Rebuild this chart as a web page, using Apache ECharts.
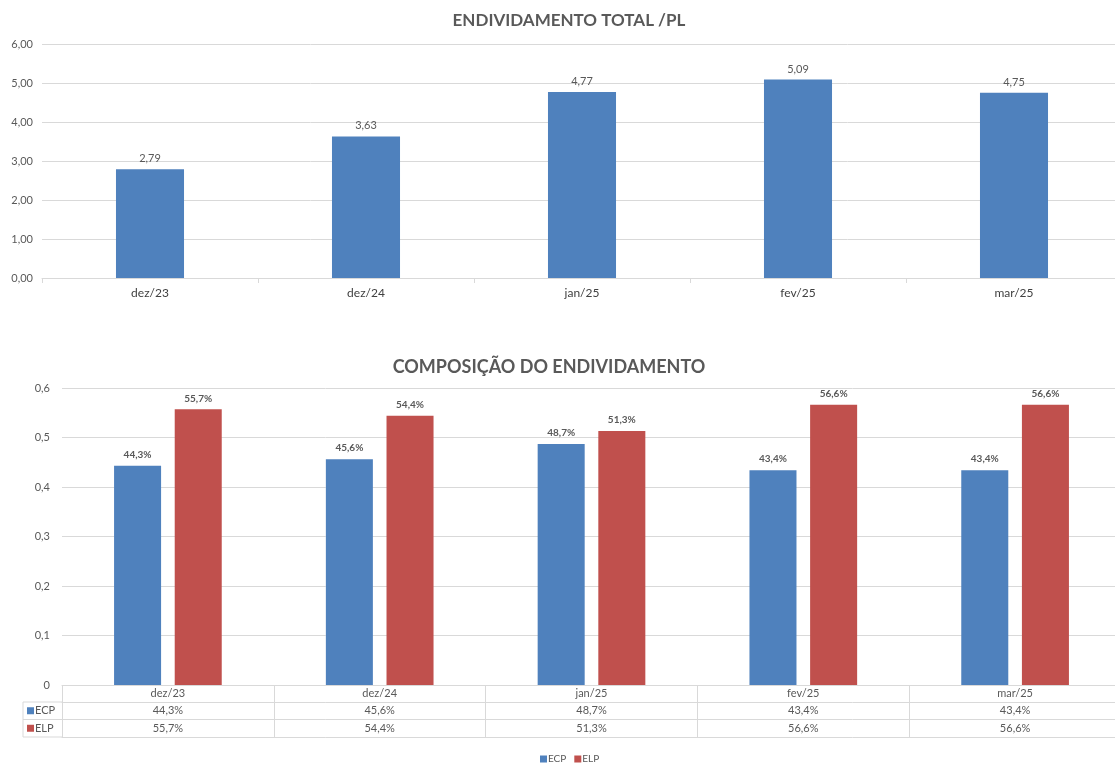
<!DOCTYPE html>
<html><head><meta charset="utf-8">
<script src="https://cdn.jsdelivr.net/npm/echarts@6/dist/echarts.min.js"></script>
<style>html,body{margin:0;padding:0;background:#fff}#c{width:1115px;height:763px}</style>
</head><body><div id="c"></div>
<script>
const categories = ['dez/23','dez/24','jan/25','fev/25','mar/25'];
const endividamentoTotalPL = [2.79, 3.63, 4.77, 5.09, 4.75];
const ecp = [0.443, 0.456, 0.487, 0.434, 0.434];
const elp = [0.557, 0.544, 0.513, 0.566, 0.566];
const seriesNames = ['ECP', 'ELP'];
const title1 = 'ENDIVIDAMENTO TOTAL /PL';
const title2 = 'COMPOSIÇÃO DO ENDIVIDAMENTO';

const FONT = 'Lato, "DejaVu Sans", sans-serif';
const BLUE = '#4F81BD', RED = '#C0504D', GRID = '#d9d9d9', TXT = '#595959';
const fmt2 = v => v.toFixed(2).replace('.', ',');
const fmt1 = v => (v === 0 ? '0' : v.toFixed(1).replace('.', ','));
const pct = v => (v * 100).toFixed(1).replace('.', ',') + '%';

const chart = echarts.init(document.getElementById('c'), null, {renderer: 'canvas'});

const rowTop = 702, rowH = 17.5, colL = 23, colR = 62;
const graphic = [];
[rowTop, rowTop + rowH, rowTop + 2 * rowH].forEach(y => graphic.push({type: 'line', shape: {x1: colL, y1: y, x2: colR, y2: y}, style: {stroke: GRID, lineWidth: 1}}));
graphic.push({type: 'line', shape: {x1: colL, y1: rowTop, x2: colL, y2: rowTop + 2 * rowH}, style: {stroke: GRID, lineWidth: 1}});
[[seriesNames[0], BLUE], [seriesNames[1], RED]].forEach((d, i) => {
  const cy = rowTop + rowH * i + rowH / 2;
  graphic.push({type: 'rect', shape: {x: colL + 4, y: cy - 3.5, width: 7, height: 7}, style: {fill: d[1]}});
  graphic.push({type: 'text', style: {x: colL + 12, y: cy, text: d[0], fill: TXT, font: '11px ' + FONT, textVerticalAlign: 'middle'}});
});

chart.setOption({
  animation: false,
  textStyle: {fontFamily: FONT},
  title: [
    {text: title1, left: 564, textAlign: 'center', top: 7, textStyle: {fontSize: 17, fontWeight: 'bold', color: TXT, fontFamily: FONT}},
    {text: title2, left: 544, textAlign: 'center', top: 353, textStyle: {fontSize: 18, fontWeight: 'bold', color: TXT, fontFamily: FONT}}
  ],
  legend: {data: seriesNames, top: 749, left: 535, icon: 'rect', itemWidth: 7, itemHeight: 7, itemGap: 8,
    textStyle: {fontSize: 10, color: TXT, padding: [0, 0, 0, -4]}},
  graphic: graphic,
  grid: [
    {left: 42, width: 1080, top: 44, height: 234, outerBoundsMode: 'none', containLabel: false},
    {left: 62, width: 1059, top: 388, height: 297, outerBoundsMode: 'none', containLabel: false}
  ],
  xAxis: [
    {gridIndex: 0, type: 'category', data: categories,
      axisLine: {lineStyle: {color: GRID}}, axisTick: {show: true, length: 5, lineStyle: {color: GRID}},
      axisLabel: {fontSize: 12, color: '#404040', margin: 9}},
    {gridIndex: 1, type: 'category', data: categories, position: 'bottom',
      axisLine: {lineStyle: {color: GRID}}, axisTick: {show: true, length: 52, lineStyle: {color: GRID}},
      axisLabel: {fontSize: 11, color: TXT, margin: 3}},
    {gridIndex: 1, type: 'category', data: categories, position: 'bottom', offset: 17,
      axisLine: {lineStyle: {color: GRID}}, axisTick: {show: false},
      axisLabel: {fontSize: 11, color: TXT, margin: 3, formatter: (v, i) => pct(ecp[i])}},
    {gridIndex: 1, type: 'category', data: categories, position: 'bottom', offset: 34.5,
      axisLine: {lineStyle: {color: GRID}}, axisTick: {show: false},
      axisLabel: {fontSize: 11, color: TXT, margin: 3, formatter: (v, i) => pct(elp[i])}},
    {gridIndex: 1, type: 'category', data: categories, position: 'bottom', offset: 52,
      axisLine: {lineStyle: {color: GRID}}, axisTick: {show: false}, axisLabel: {show: false}}
  ],
  yAxis: [
    {gridIndex: 0, type: 'value', min: 0, max: 6, interval: 1,
      axisLine: {show: false}, axisTick: {show: false}, splitLine: {lineStyle: {color: GRID}},
      axisLabel: {fontSize: 11, color: TXT, margin: 9, formatter: fmt2}},
    {gridIndex: 1, type: 'value', min: 0, max: 0.6, interval: 0.1,
      axisLine: {show: false}, axisTick: {show: false}, splitLine: {lineStyle: {color: GRID}},
      axisLabel: {fontSize: 11, color: TXT, margin: 12, formatter: fmt1}}
  ],
  series: [
    {type: 'bar', name: title1, xAxisIndex: 0, yAxisIndex: 0, data: endividamentoTotalPL, barWidth: '31.5%',
      itemStyle: {color: BLUE},
      label: {show: true, position: 'top', distance: 5, fontSize: 11, color: TXT, formatter: p => fmt2(p.value)}},
    {type: 'bar', name: seriesNames[0], xAxisIndex: 1, yAxisIndex: 1, data: ecp, barWidth: '22.2%', barGap: '29%',
      itemStyle: {color: BLUE},
      label: {show: true, position: 'top', distance: 6, fontSize: 10, fontWeight: 'bold', color: TXT, formatter: p => pct(p.value)}},
    {type: 'bar', name: seriesNames[1], xAxisIndex: 1, yAxisIndex: 1, data: elp, barWidth: '22.2%', barGap: '29%',
      itemStyle: {color: RED},
      label: {show: true, position: 'top', distance: 6, fontSize: 10, fontWeight: 'bold', color: TXT, formatter: p => pct(p.value)}}
  ]
});
</script></body></html>
